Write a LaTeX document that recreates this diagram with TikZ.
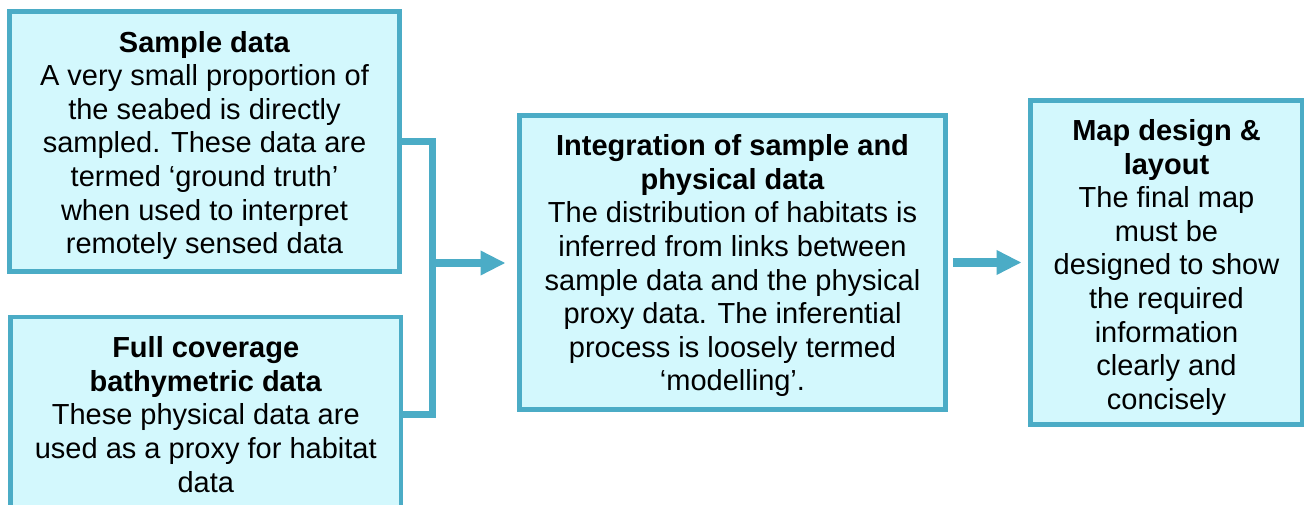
\documentclass[tikz,border=0pt]{standalone}
\usepackage{fontspec}
\setmainfont{Liberation Sans}
\usetikzlibrary{arrows.meta,calc}
\definecolor{bord}{HTML}{4BACC6}
\definecolor{boxfill}{HTML}{D3F8FD}
\newcommand{\mytopstrut}[1]{\rule{0pt}{#1}}
\tikzset{
  box/.style={draw=bord, fill=boxfill, line width=4.8pt, rectangle, align=center,
    inner sep=0pt, font=\fontsize{29}{33.6}\selectfont},
  bracket/.style={draw=bord, line width=7pt},
  arr/.style={draw=bord, line width=8pt, -{Triangle[length=25pt,width=23pt]}}
}
\begin{document}
\begin{tikzpicture}[x=1pt,y=-1pt]
\useasboundingbox (0,0) rectangle (1304,505);
\clip (0,0) rectangle (1304,505);
\fill[white] (0,0) rectangle (1304,505);
\node[box, minimum width=390pt, minimum height=260pt] (b1) at (204.5,141.5)
  {\mytopstrut{29pt}\textbf{Sample data}\\A very small proportion of\\the seabed is directly\\sampled. These data are\\termed ‘ground truth’\\when used to interpret\\remotely sensed data};
\node[box, minimum width=390.5pt, minimum height=195pt] (b2) at (205.75,414.5)
  {\textbf{Full coverage}\\\textbf{bathymetric data}\\These physical data are\\used as a proxy for habitat\\data};
\node[box, minimum width=426pt, minimum height=294pt] (b3) at (732.5,262.5)
  {\mytopstrut{27.5pt}\textbf{Integration of sample and}\\\textbf{physical data}\\The distribution of habitats is\\inferred from links between\\sample data and the physical\\proxy data. The inferential\\process is loosely termed\\‘modelling’.};
\node[box, minimum width=272pt, minimum height=324pt] (b4) at (1166.5,262.5)
  {\mytopstrut{31pt}\textbf{Map design \&}\\\textbf{layout}\\The final map\\must be\\designed to show\\the required\\information\\clearly and\\concisely};
\coordinate (jn) at (432,263);
\draw[bracket] (b1.east) -| (jn) |- (b2.east);
\draw[arr, shorten >=11.5pt] (jn) -- (jn -| b3.west);
\draw[arr, shorten <=5.5pt, shorten >=6.5pt] (b3.east) -- (b4.west);
\end{tikzpicture}
\end{document}
